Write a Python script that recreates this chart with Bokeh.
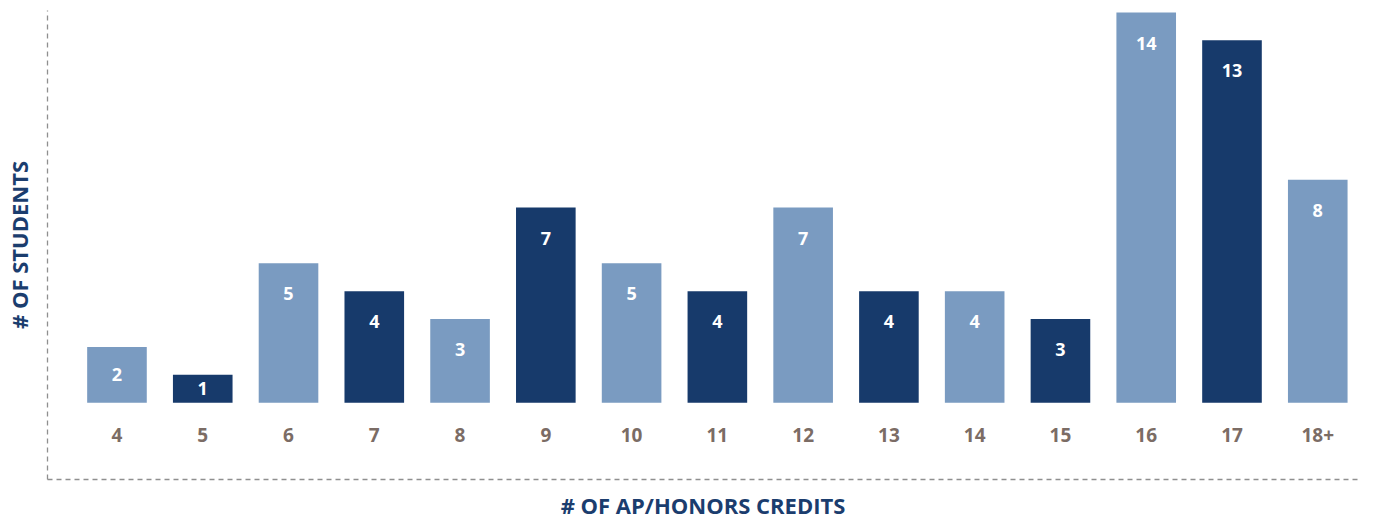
from bokeh.plotting import figure
from bokeh.models import ColumnDataSource, FixedTicker, Range1d, LabelSet
from bokeh.core.properties import value
from bokeh.embed import file_html
from bokeh.resources import INLINE

# ---- data ----
credits = ["4", "5", "6", "7", "8", "9", "10", "11", "12", "13", "14", "15", "16", "17", "18+"]
students = [2, 1, 5, 4, 3, 7, 5, 4, 7, 4, 4, 3, 14, 13, 8]

LIGHT = "#7a9bc1"
DARK = "#173a6b"
TICK_COLOR = "#7b6c65"
TITLE_COLOR = "#1b3d6e"
FONT = "Open Sans"

xs = list(range(len(credits)))
colors = [LIGHT if i % 2 == 0 else DARK for i in xs]
label_y = [max(v - 1.1, v / 2.0) for v in students]
src = ColumnDataSource(dict(x=xs, top=students, color=colors,
                            txt=[str(v) for v in students], ly=label_y))
cat_src = ColumnDataSource(dict(x=xs, y=[0] * len(xs), txt=credits))

p = figure(width=1358, height=522, output_backend="svg", toolbar_location=None,
           x_range=Range1d(-0.81, 14.475), y_range=Range1d(-2.757, 14.07),
           min_border_left=38, min_border_right=0, min_border_top=10, min_border_bottom=39)
p.outline_line_color = None
p.xgrid.visible = False
p.ygrid.visible = False

p.vbar(x="x", top="top", bottom=0, width=0.695, fill_color="color", line_color=None, source=src)

labels = LabelSet(x="x", y="ly", text="txt", source=src, text_color="white",
                  text_font=value(FONT), text_font_style="bold", text_font_size="18px",
                  text_align="center", text_baseline="middle")
p.add_layout(labels)

# category labels under the bars
p.text(x="x", y="y", text="txt", source=cat_src, y_offset=32,
       text_font=value(FONT), text_font_style="bold", text_font_size="19px",
       text_color=TICK_COLOR, text_align="center", text_baseline="middle")

# main axes: dashed lines only, with titles
for ax in (p.xaxis[0], p.yaxis[0]):
    ax.ticker = FixedTicker(ticks=[])
    ax.axis_line_color = "#8f8f8f"
    ax.axis_line_dash = "5 4"
    ax.axis_line_width = 1.3
    ax.major_tick_line_color = None
    ax.minor_tick_line_color = None
    ax.major_tick_out = 0
    ax.major_tick_in = 0
    ax.major_label_standoff = 0
    ax.axis_label_text_font = FONT
    ax.axis_label_text_font_style = "bold"
    ax.axis_label_text_color = TITLE_COLOR
    ax.axis_label_text_font_size = "22px"

p.xaxis[0].axis_label = "# OF AP/HONORS CREDITS"
p.xaxis[0].axis_label_standoff = 10
p.yaxis[0].axis_label = "# OF STUDENTS"
p.yaxis[0].axis_label_standoff = 14

open("out.html", "w").write(file_html(p, INLINE))
